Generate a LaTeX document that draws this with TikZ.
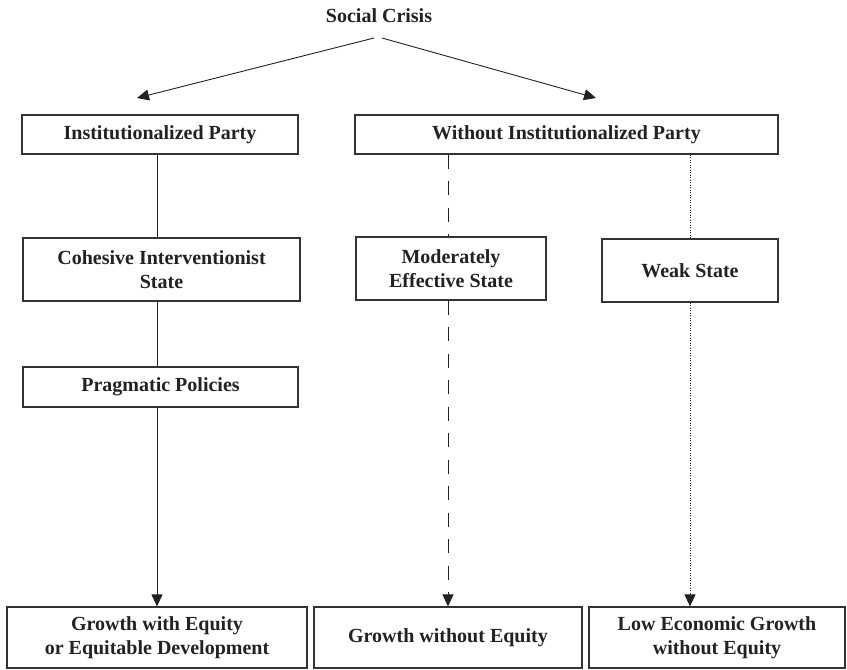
\documentclass[tikz,border=0pt]{standalone}
\usepackage{fontspec}
\setmainfont{Liberation Serif}
\usetikzlibrary{arrows.meta}
\definecolor{ink}{HTML}{222222}
\definecolor{frame}{HTML}{333333}
\tikzset{
  box/.style={draw=frame, line width=1.2bp, fill=white, inner sep=0pt, align=center,
    text=ink, font=\fontsize{20bp}{24bp}\selectfont\bfseries},
  conn/.style={draw=ink, line width=0.9bp},
  tip/.style={-{Triangle[length=12bp,width=11bp]}},
  dashline/.style={dash pattern=on 14bp off 12.5bp},
  dotline/.style={dash pattern=on 1bp off 1.5bp},
}
\begin{document}
\begin{tikzpicture}[x=1bp,y=-1bp]
\useasboundingbox (0,0) rectangle (847,670);
\node[text=ink, font=\fontsize{20bp}{24bp}\selectfont\bfseries] (crisis) at (379,16) {Social Crisis};
\coordinate (apexL) at (374,38);
\coordinate (apexR) at (382,38);
\coordinate (tipL) at (137,98);
\coordinate (tipR) at (596,98);

\node[box, minimum width=276bp, minimum height=39bp] (inst) at (160,134.5) {Institutionalized Party};
\node[box, minimum width=423bp, minimum height=39bp] (without) at (566.5,134.5) {Without Institutionalized Party};
\node[box, minimum width=277bp, minimum height=63bp] (cohesive) at (161.5,269.5) {Cohesive Interventionist\\State};
\node[box, minimum width=190bp, minimum height=63bp] (moderate) at (451,268.5) {Moderately\\Effective State};
\node[box, minimum width=176bp, minimum height=63bp] (weak) at (690,270.5) {Weak State};
\node[box, minimum width=275bp, minimum height=40bp] (prag) at (160.5,387) {Pragmatic Policies};
\node[box, minimum width=300bp, minimum height=61bp] (gwe) at (157,637.5) {Growth with Equity\\or Equitable Development};
\node[box, minimum width=268bp, minimum height=61bp] (gwo) at (448,637.5) {Growth without Equity};
\node[box, minimum width=256bp, minimum height=61bp] (low) at (717,637.5) {Low Economic Growth\\without Equity};

\draw[conn, tip] (apexL) -- (tipL);
\draw[conn, tip] (apexR) -- (tipR);

\draw[conn] (gwe.north |- inst.south) -- (gwe.north |- cohesive.north);
\draw[conn] (gwe.north |- cohesive.south) -- (gwe.north |- prag.north);
\draw[conn, tip] (gwe.north |- prag.south) -- (gwe.north);

\draw[conn, dashline] (gwo.north |- without.south) -- (gwo.north |- moderate.north);
\draw[conn, dashline, tip] (gwo.north |- moderate.south) -- (gwo.north);

\draw[conn, dotline] (weak.north |- without.south) -- (weak.north);
\draw[conn, dotline, tip] (weak.south) -- (weak.south |- low.north);
\end{tikzpicture}
\end{document}
